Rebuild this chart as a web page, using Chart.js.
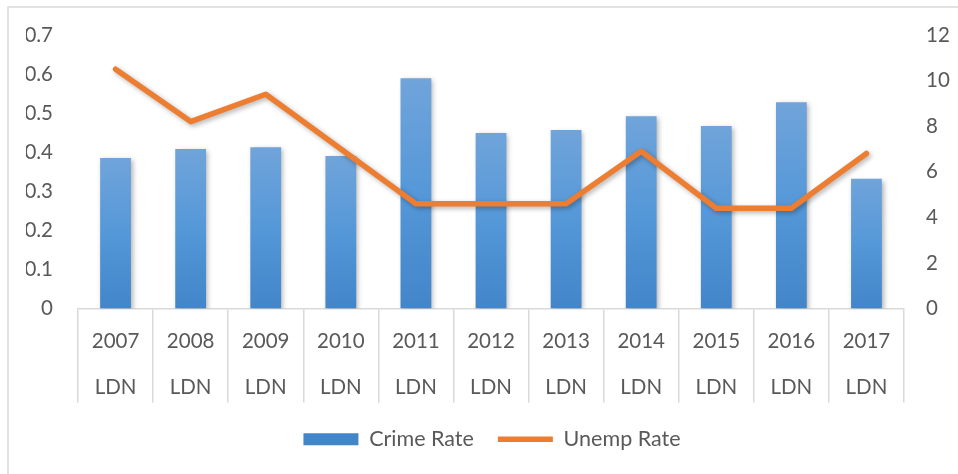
<!DOCTYPE html>
<html>
<head>
<meta charset="utf-8">
<script src="https://cdn.jsdelivr.net/npm/chart.js@4/dist/chart.umd.min.js"></script>
<style>
  html, body { margin: 0; padding: 0; background: #fff; }
  canvas { display: block; }
</style>
</head>
<body>
<canvas id="chart" width="958" height="474"></canvas>
<script>
const years = ["2007", "2008", "2009", "2010", "2011", "2012", "2013", "2014", "2015", "2016", "2017"];
const region = "LDN";
const crimeRate = [0.385, 0.408, 0.413, 0.39, 0.589, 0.449, 0.457, 0.492, 0.467, 0.528, 0.332];
const unempRate = [10.5, 8.2, 9.4, 7.0, 4.6, 4.6, 4.6, 6.9, 4.4, 4.4, 6.8];

const textColor = "#595959";
const lineGrey = "#d9d9d9";

// each bar gets its own top-to-bottom gradient like the Excel fill
const barFill = (ctx) => {
  const chart = ctx.chart;
  const y = chart.scales && chart.scales.y;
  if (!y || typeof ctx.raw !== "number") return "#5b9bd5";
  const top = y.getPixelForValue(ctx.raw);
  const bottom = y.getPixelForValue(0);
  if (!isFinite(top) || !isFinite(bottom) || top === bottom) return "#5b9bd5";
  const g = chart.ctx.createLinearGradient(0, top, 0, bottom);
  g.addColorStop(0, "#70a4da");
  g.addColorStop(0.5, "#5598d8");
  g.addColorStop(1, "#4285c9");
  return g;
};

const frame = {
  id: "frame",
  beforeDraw(chart) {
    const c = chart.ctx;
    c.save();
    c.strokeStyle = lineGrey;
    c.lineWidth = 1.5;
    c.strokeRect(8, 7, 1000, 1000);
    c.restore();
  },
};

const shadow = {
  id: "shadow",
  beforeDatasetDraw(chart) {
    const c = chart.ctx;
    c.save();
    c.shadowColor = "rgba(0,0,0,0.3)";
    c.shadowBlur = 5;
    c.shadowOffsetX = 2;
    c.shadowOffsetY = 2;
  },
  afterDatasetDraw(chart) {
    chart.ctx.restore();
  },
};

new Chart(document.getElementById("chart"), {
  data: {
    labels: years.map((y) => [y, region]),
    datasets: [
      {
        type: "line",
        label: "Unemp Rate",
        data: unempRate,
        yAxisID: "y2",
        borderColor: "#ed7d31",
        backgroundColor: "#ed7d31",
        borderWidth: 5.5,
        borderCapStyle: "round",
        borderJoinStyle: "round",
        pointRadius: 0,
        pointStyle: "line",
        tension: 0,
      },
      {
        type: "bar",
        label: "Crime Rate",
        data: crimeRate,
        yAxisID: "y",
        backgroundColor: barFill,
        pointStyle: "rect",
        categoryPercentage: 1,
        barPercentage: 0.41,
      },
    ],
  },
  options: {
    responsive: false,
    animation: false,
    layout: { padding: { top: 35, bottom: 14, left: 26 } },
    font: { family: "Lato, 'Open Sans', sans-serif" },
    plugins: {
      tooltip: { enabled: false },
      legend: {
        position: "bottom",
        labels: {
          color: textColor,
          font: { size: 21.5, family: "Lato" },
          usePointStyle: true,
          pointStyleWidth: 55,
          boxHeight: 12,
          padding: 24,
          sort: (a, b) => b.datasetIndex - a.datasetIndex,
        },
      },
    },
    scales: {
      x: {
        grid: {
          offset: true,
          drawOnChartArea: false,
          color: lineGrey,
          lineWidth: 1.5,
          tickLength: 94,
        },
        border: { color: lineGrey, width: 1.5 },
        ticks: {
          color: textColor,
          font: { size: 20.5, family: "Lato", lineHeight: 2.25 },
          padding: -84,
          maxRotation: 0,
          autoSkip: false,
        },
        afterFit: (s) => { s.height = 96; },
      },
      y: {
        position: "left",
        min: 0,
        max: 0.7,
        grid: { display: false },
        border: { display: false },
        ticks: {
          stepSize: 0.1,
          color: textColor,
          font: { size: 20.5, family: "Lato" },
          padding: 17,
        },
        afterFit: (s) => { s.width = 52; },
      },
      y2: {
        position: "right",
        min: 0,
        max: 12,
        grid: { display: false },
        border: { display: false },
        ticks: {
          stepSize: 2,
          color: textColor,
          font: { size: 20.5, family: "Lato" },
          padding: 14,
        },
        afterFit: (s) => { s.width = 54; },
      },
    },
  },
  plugins: [frame, shadow],
});
</script>
</body>
</html>
